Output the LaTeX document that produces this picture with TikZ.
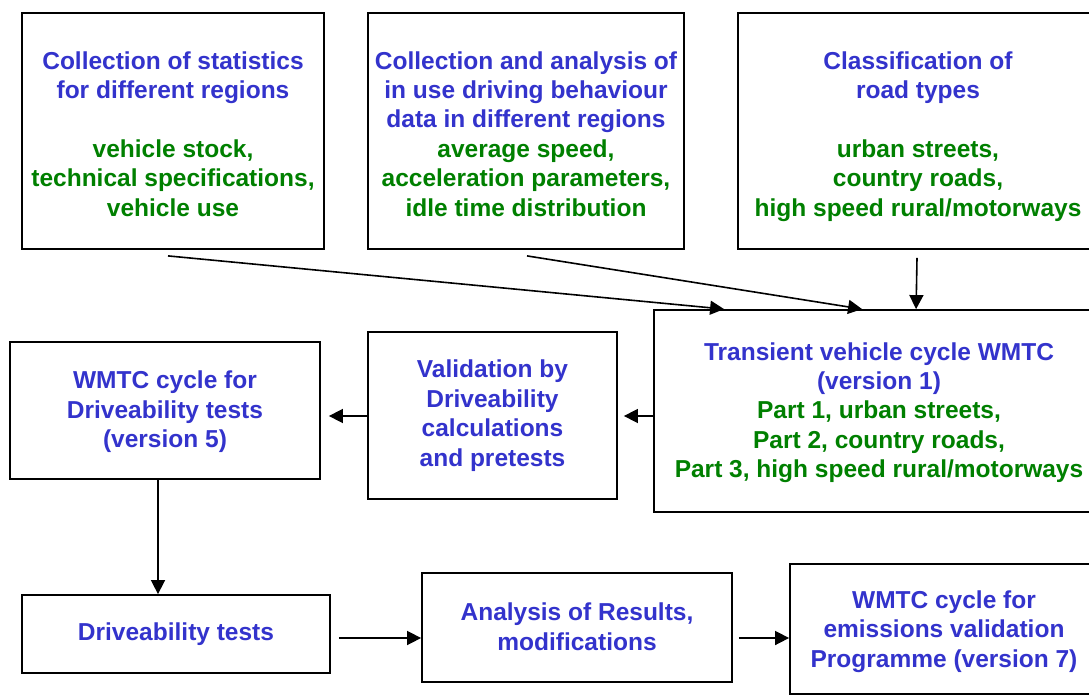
\documentclass[tikz,border=0pt]{standalone}
\usepackage{fontspec}
\setmainfont{Liberation Sans}
\usetikzlibrary{arrows.meta,calc}
\definecolor{tblue}{RGB}{51,51,204}
\definecolor{tgreen}{RGB}{0,128,0}
\newcommand\gl[1]{\textcolor{tgreen}{#1}}
\newcommand\ts[1]{\rule{0pt}{#1}}
\tikzset{
  box/.style={draw=black, line width=1.8pt, align=center, inner sep=0pt,
    text=tblue, font=\fontsize{24.5}{29.4}\selectfont\bfseries},
  arr/.style={line width=1.6pt, -{Triangle[length=14pt,width=14pt]}},
}
\begin{document}
\begin{tikzpicture}[x=1pt,y=-1pt]
\clip (0,0) rectangle (1089,695);
\fill[white] (0,0) rectangle (1089,695);
% top row
\node[box, minimum width=302pt, minimum height=236pt] (A) at (173,131)
  {\ts{32pt}Collection of statistics\\for different regions\\[29.4pt]
   \gl{vehicle stock,}\\\gl{technical specifications,}\\\gl{vehicle use}\strut};
\node[box, minimum width=316pt, minimum height=236pt] (B) at (526,131)
  {\ts{32pt}Collection and analysis of\\in use driving behaviour\\data in different regions\\
   \gl{average speed,}\\\gl{acceleration parameters,}\\\gl{idle time distribution}\strut};
\node[box, minimum width=360pt, minimum height=236pt] (C) at (918,131)
  {\ts{32pt}Classification of\\road types\\[29.4pt]
   \gl{urban streets,}\\\gl{country roads,}\\\gl{high speed rural/motorways}\strut};
% middle row
\node[box, minimum width=450pt, minimum height=202pt] (D) at (879,411)
  {\ts{24.6pt}Transient vehicle cycle WMTC\\(version 1)\\
   \gl{Part 1, urban streets,}\\\gl{Part 2, country roads,}\\\gl{Part 3, high speed rural/motorways}\strut};
\node[box, minimum width=249pt, minimum height=167pt] (E) at (492.5,415.5)
  {\ts{22pt}Validation by\\Driveability\\calculations\\and pretests\strut};
\node[box, minimum width=310pt, minimum height=137pt] (F) at (165,410.5)
  {\ts{24.6pt}WMTC cycle for\\Driveability tests\\(version 5)\strut};
% bottom row
\node[box, minimum width=308pt, minimum height=78pt] (G) at (176,634)
  {\ts{22.6pt}Driveability tests\strut};
\node[box, minimum width=310pt, minimum height=109pt] (H) at (577,627.5)
  {\ts{24.6pt}Analysis of Results,\\modifications\strut};
\node[box, minimum width=308pt, minimum height=130pt] (I) at (944,629)
  {\ts{26.6pt}WMTC cycle for\\emissions validation\\Programme (version 7)\strut};
% connectors
\draw[arr] ($(A.south)+(-5,6)$) -- ($(D.north west)+(71,0)$);
\draw[arr] ($(B.south)+(1,6)$) -- ($(D.north west)+(209,0)$);
\draw[arr] ($(C.south)+(-1,8)$) -- ($(D.north west)+(263,0)$);
\draw[arr] ($(D.west)+(0,5)$) -- ($(E.east)+(6,0.5)$);
\draw[arr] ($(E.west)+(0,0.5)$) -- ($(F.east)+(8,5.5)$);
\draw[arr] ($(F.south)+(-7,0)$) -- ($(G.north)+(-18,0)$);
\draw[arr] ($(G.east)+(8,4)$) -- ($(H.west)+(0,10.5)$);
\draw[arr] ($(H.east)+(6,10.5)$) -- ($(I.west)+(0,9)$);
\end{tikzpicture}
\end{document}
